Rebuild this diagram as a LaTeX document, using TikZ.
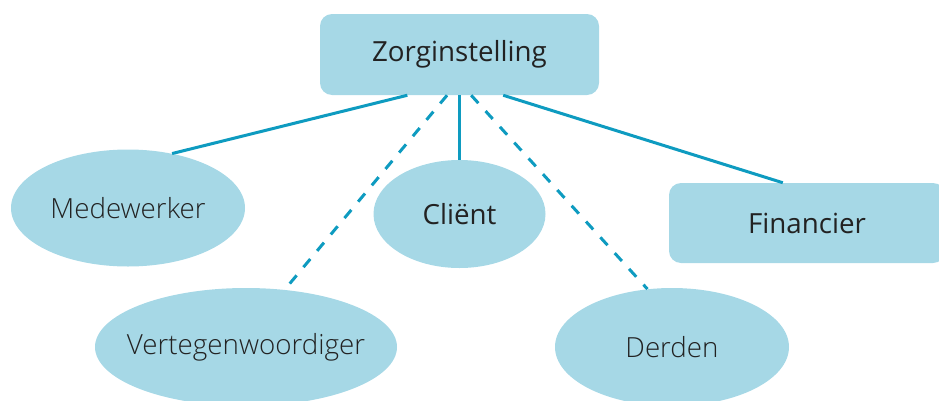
\documentclass[tikz,border=0pt]{standalone}
\usepackage{fontspec}
\setmainfont{Open Sans}
\newfontfamily\lightfont{Open Sans Light}
\usetikzlibrary{shapes.geometric}
\definecolor{nodeFill}{HTML}{A6D8E6}
\definecolor{linkBlue}{HTML}{0E9BC0}
\definecolor{textGrey}{HTML}{222222}

\begin{document}
\begin{tikzpicture}[
    x = 0.75pt,
    y = -0.75pt,
    font = \fontsize{20.8}{24}\selectfont,
    text = textGrey,
    inner sep = 0pt,
    box/.style = {rectangle, rounded corners = 9pt, fill = nodeFill},
    oval/.style = {ellipse, inner xsep = -20pt, fill = nodeFill},
    link/.style = {draw = linkBlue, line width = 2.25pt},
    dlink/.style = {link, dash pattern = on 8pt off 8pt}
  ]
    \clip (0, 0) rectangle (939, 400);
    \node[box, minimum width = 209.25pt, minimum height = 60.75pt] (zorginstelling) at (459.5, 54.5) {Zorginstelling};
    \node[oval, minimum width = 175.5pt, minimum height = 87.75pt] (medewerker) at (128, 208) {\lightfont Medewerker};
    \node[oval, minimum width = 226.5pt, minimum height = 88.5pt] (vertegenwoordiger) at (246, 347) {\lightfont Vertegenwoordiger};
    \node[oval, minimum width = 129pt, minimum height = 81pt] (client) at (459.5, 214) {Cliënt};
    \node[box, minimum width = 207pt, minimum height = 60pt] (financier) at (807, 223) {Financier};
    \node[oval, minimum width = 175.5pt, minimum height = 88.5pt] (derden) at (672, 347) {\lightfont Derden};
    \draw[link] (zorginstelling.218) -- (medewerker.51);
    \draw[dlink] (zorginstelling.253) -- (vertegenwoordiger.56);
    \draw[link] (zorginstelling.south) -- (client.north);
    \draw[dlink] (zorginstelling.286) -- (derden.113);
    \draw[link] (zorginstelling.317) -- (financier.121);
  \end{tikzpicture}
\end{document}
